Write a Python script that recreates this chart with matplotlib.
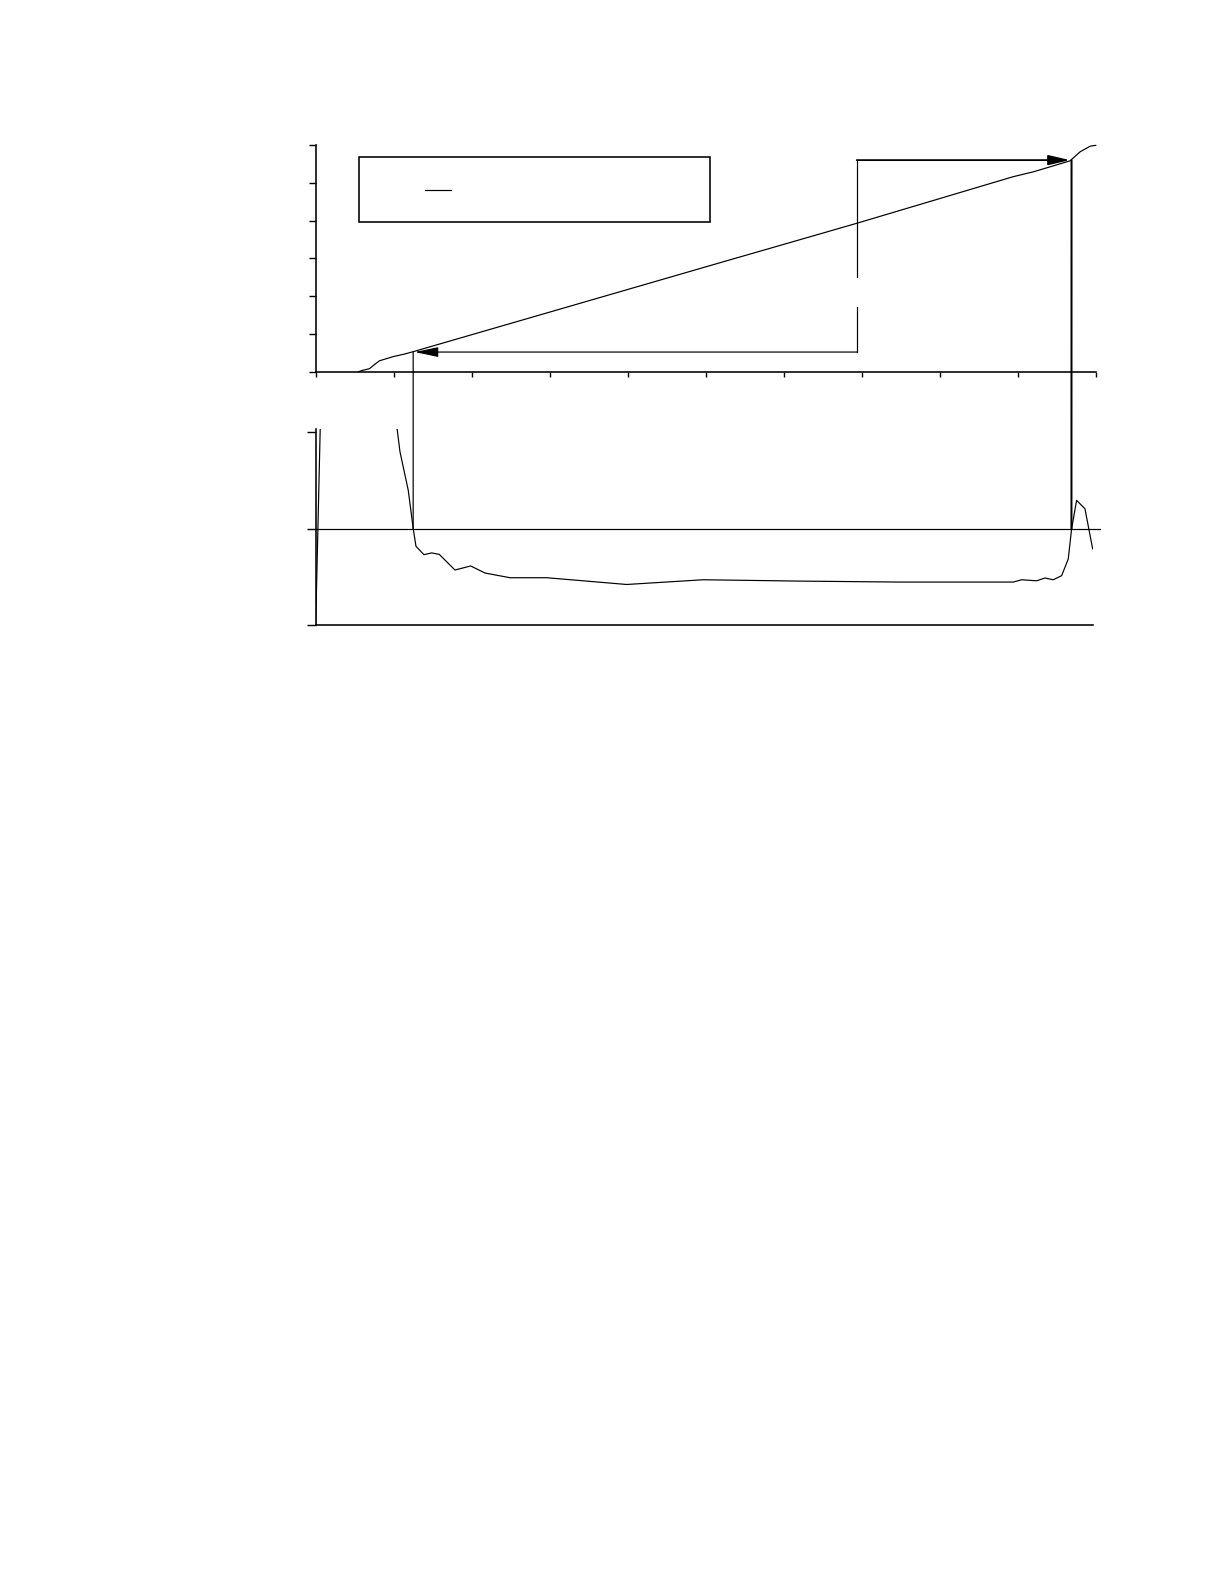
import matplotlib
matplotlib.use("Agg")
import matplotlib.pyplot as plt
from matplotlib.patches import ConnectionPatch, Rectangle
from matplotlib.lines import Line2D

# ---------------- data ----------------
titr_x = [0.55, 0.59, 0.69, 0.76, 0.82, 0.995, 1.145, 1.25, 5.31, 5.95, 6.94, 8.94, 9.20, 9.67, 9.80, 9.93, 10.0]
titr_y = [0.0, 0.03, 0.08, 0.20, 0.29, 0.40, 0.47, 0.53, 2.96, 3.34, 3.93, 5.16, 5.29, 5.58, 5.82, 5.97, 5.99]

deriv_x = [0.0, 0.06, 0.25, 0.90, 1.046, 1.081, 1.187, 1.251, 1.286, 1.388, 1.487, 1.585,
           1.786, 1.987, 2.171, 2.491, 2.962, 3.987, 4.969, 6.209, 7.491, 8.944, 9.051,
           9.244, 9.350, 9.456, 9.564, 9.649, 9.692, 9.756, 9.863, 9.962]
deriv_y = [-1.0, 1.10, 2.5, 2.0, 1.024, 0.798, 0.399, 0.0, -0.181, -0.268, -0.250, -0.265,
           -0.427, -0.385, -0.458, -0.507, -0.507, -0.577, -0.528, -0.542, -0.552, -0.552, -0.528,
           -0.539, -0.510, -0.528, -0.486, -0.313, 0.0, 0.295, 0.208, -0.208]

top_xticks = [0, 1, 2, 3, 4, 5, 6, 7, 8, 9, 10]
top_yticks = [0, 1, 2, 3, 4, 5, 6]
bot_yticks = [-1, 0, 1]

eq1 = (1.25, 0.53)      # first equivalence point
eq2 = (9.69, 5.60)      # second equivalence point
mid_x = 6.94            # x of the bracket connector
gap = (1.72, 2.51)      # gap in the bracket connector
# --------------------------------------

fig = plt.figure(figsize=(8.5, 11), dpi=144)

ax1 = fig.add_axes([0.2579, 0.76534, 0.6373, 0.14312])
ax2 = fig.add_axes([0.2579, 0.60524, 0.6348, 0.12367])

lw_c = 0.6
# top panel
ax1.plot(titr_x, titr_y, color="black", lw=lw_c, clip_on=False)
ax1.set_xlim(0, 10)
ax1.set_ylim(0, 6)
ax1.set_xticks(top_xticks)
ax1.set_yticks(top_yticks)
ax1.set_xticklabels([])
ax1.set_yticklabels([])
ax1.tick_params(axis="x", direction="out", length=2.5, width=0.7)
ax1.tick_params(axis="y", direction="out", length=3.5, width=0.7)
for s in ["top", "right"]:
    ax1.spines[s].set_visible(False)
for s in ["left", "bottom"]:
    ax1.spines[s].set_linewidth(0.8)

# legend box (labels empty)
ax1.add_patch(Rectangle((0.0559, 0.659), 0.45, 0.2867, transform=ax1.transAxes,
                        facecolor="white", edgecolor="black", lw=0.8))
ax1.add_line(Line2D([0.140, 0.174], [0.800, 0.800], transform=ax1.transAxes,
                    color="black", lw=lw_c))

# bracket connector with arrows
ax1.plot([mid_x, mid_x], [gap[0], eq1[1]], color="black", lw=0.6)
ax1.annotate("", xy=(eq1[0] + 0.02, eq1[1] - 0.01), xytext=(mid_x, eq1[1] - 0.01),
             arrowprops=dict(arrowstyle="-|>,head_length=10,head_width=2.1",
                             mutation_scale=1, color="black", lw=0.6,
                             shrinkA=0, shrinkB=0))
ax1.plot([mid_x, mid_x], [gap[1], eq2[1]], color="black", lw=0.6)
ax1.annotate("", xy=(eq2[0] - 0.02, eq2[1]), xytext=(mid_x - 0.004, eq2[1]),
             arrowprops=dict(arrowstyle="-|>,head_length=9,head_width=2.1",
                             mutation_scale=1, color="black", lw=0.9,
                             shrinkA=0, shrinkB=0))

# bottom panel
ax2.plot(deriv_x, deriv_y, color="black", lw=lw_c)
ax2.set_xlim(0, deriv_x[-1])
ax2.set_ylim(-1, 1.03)
ax2.set_xticks([])
ax2.set_yticks(bot_yticks)
ax2.set_yticklabels([])
ax2.tick_params(axis="y", direction="out", length=4.5, width=0.7)
for s in ["top", "right"]:
    ax2.spines[s].set_visible(False)
for s in ["left", "bottom"]:
    ax2.spines[s].set_linewidth(0.8)
ax2.axhline(0, xmin=0, xmax=1.01, color="black", lw=0.6, clip_on=False)

# vertical drop lines from equivalence points to the zero line
con1 = ConnectionPatch(xyA=eq1, coordsA=ax1.transData, xyB=(eq1[0], 0), coordsB=ax2.transData,
                       color="black", lw=0.6)
fig.add_artist(con1)
con2 = ConnectionPatch(xyA=eq2, coordsA=ax1.transData, xyB=(eq2[0], 0), coordsB=ax2.transData,
                       color="black", lw=1.0)
fig.add_artist(con2)

fig.savefig("out.png", dpi=144, facecolor="white")
